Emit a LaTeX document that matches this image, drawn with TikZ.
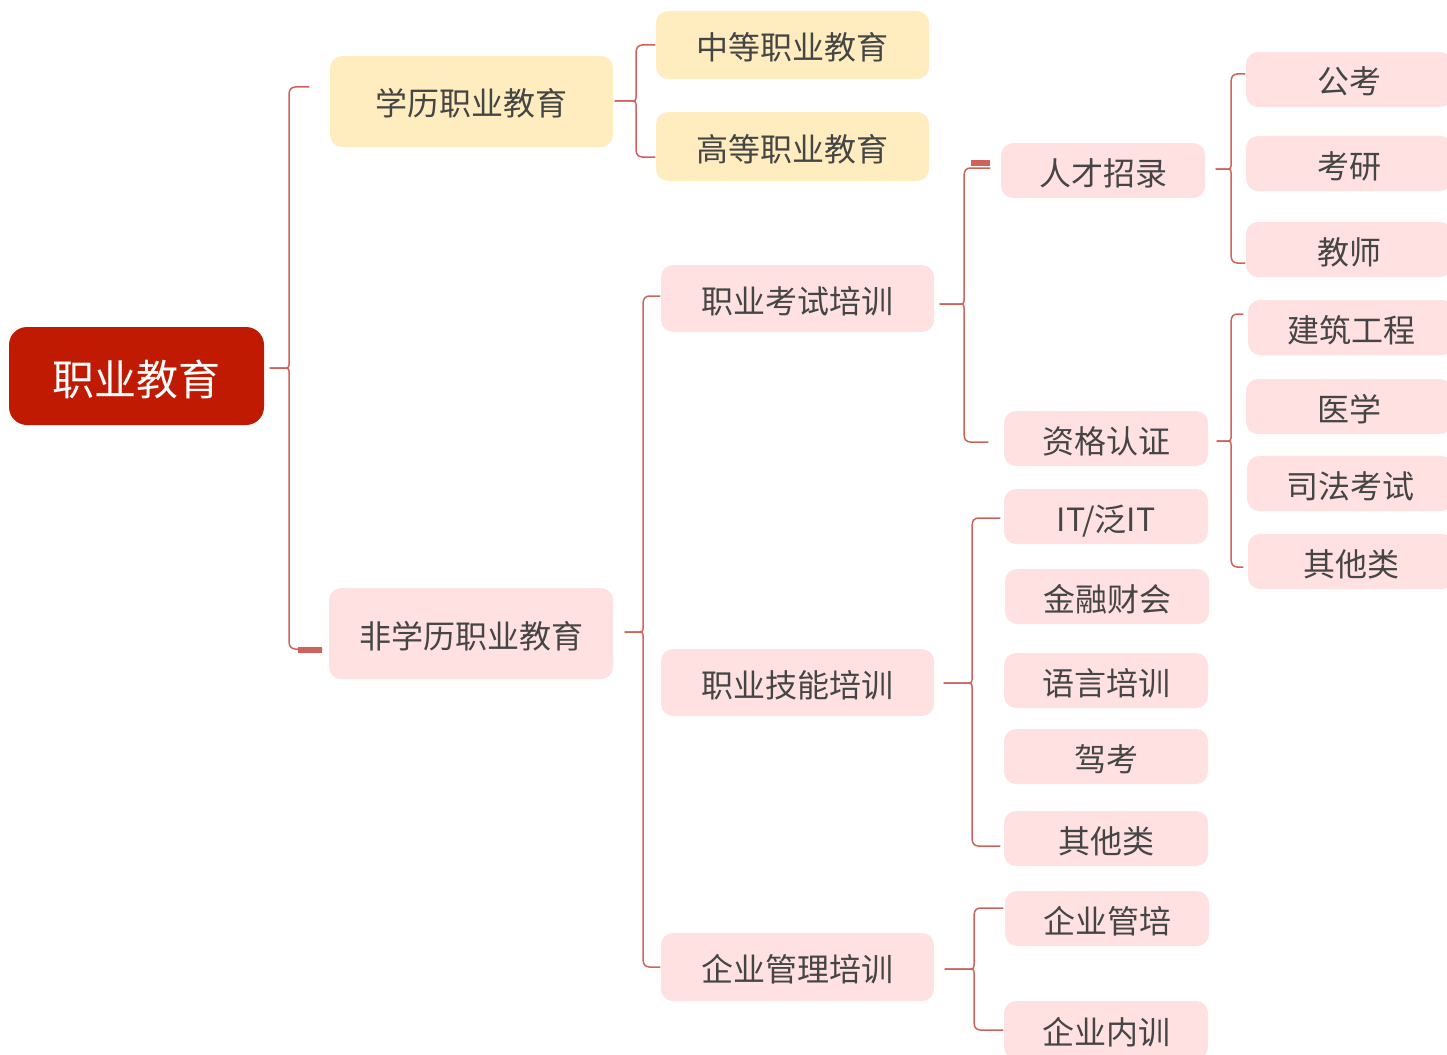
\documentclass[tikz,border=0pt]{standalone}
\usepackage{fontspec}
\setmainfont{Noto Sans CJK SC}
\usetikzlibrary{calc}
\definecolor{rootred}{HTML}{C01B02}
\definecolor{ylw}{HTML}{FFEDC0}
\definecolor{pnk}{HTML}{FFE1E1}
\definecolor{lnc}{HTML}{D0625C}
\definecolor{txt}{HTML}{454545}
\begin{document}
\begin{tikzpicture}[x=1pt,y=-1pt,
  base/.style={rounded corners=12pt, inner sep=0pt, text=txt, font=\fontsize{32}{32}\selectfont, text height=29pt, text depth=0pt},
  yb/.style={base, fill=ylw},
  pb/.style={base, fill=pnk},
  l2/.style={minimum width=273pt},
  l3/.style={pb, minimum width=204pt, minimum height=55pt},
  l4/.style={pb, minimum width=206pt, minimum height=55pt},
  conn/.style={draw=lnc, line width=1.5pt, line cap=round},
  mk/.style={fill=lnc}]
\useasboundingbox (0,0) rectangle (1447,1054);
\clip (0,0) rectangle (1447,1054);

% root
\node[fill=rootred, rounded corners=18pt, inner sep=0pt, text=white,
      font=\fontsize{42}{42}\selectfont, text height=38pt, text depth=0pt,
      minimum width=255pt, minimum height=98pt]
      (root) at (136.5,376) {职业教育};

% level 1
\node[yb, minimum width=283pt, minimum height=91pt] (xl) at (471.5,101.5) {学历职业教育};
\node[pb, minimum width=284pt, minimum height=91pt] (fxl) at (471,633.5) {非学历职业教育};

% level 2
\node[yb, l2, minimum height=68pt] (zd) at (792.5,45) {中等职业教育};
\node[yb, l2, minimum height=69pt] (gd) at (792.5,146.5) {高等职业教育};
\node[pb, l2, minimum height=67pt] (ks) at (797.5,298.5) {职业考试培训};
\node[pb, l2, minimum height=67pt] (jn) at (797.5,682.5) {职业技能培训};
\node[pb, l2, minimum height=68pt] (qy) at (797.5,967) {企业管理培训};

% level 3
\node[l3] (rc) at (1103,170.5) {人才招录};
\node[l3] (zg) at (1106,438.5) {资格认证};
\node[l3] (it) at (1106,516.5) {IT/泛IT};
\node[l3] (jr) at (1107,596.5) {金融财会};
\node[l3] (yy) at (1106,680.5) {语言培训};
\node[l3] (jk) at (1106,756.5) {驾考};
\node[l3] (qt1) at (1106,838.5) {其他类};
\node[l3] (qg) at (1107,918.5) {企业管培};
\node[l3, minimum height=58pt] (nx) at (1106,1030) {企业内训};

% level 4
\node[l4] (gk) at (1349,79.5) {公考};
\node[l4] (ky) at (1349,163.5) {考研};
\node[l4] (js) at (1349,249.5) {教师};
\node[l4] (jz) at (1351,327.5) {建筑工程};
\node[l4] (yx) at (1349,406.5) {医学};
\node[l4] (sf) at (1350,483.5) {司法考试};
\node[l4] (qt2) at (1351,561.5) {其他类};

% brackets
% root
\draw[conn] ($(root.east)+(6,-8)$) -- ++(16,0) .. controls +(3,0) and +(0,5) .. ++(3,-8) [rounded corners=6pt] |- ($(xl.west)+(-21,-14.5)$);
\draw[conn] ($(root.east)+(6,-8)$) -- ++(16,0) .. controls +(3,0) and +(0,-5) .. ++(3,8) [rounded corners=6pt] |- ($(fxl.west)+(-7,15.5)$);
% xl
\draw[conn] ($(xl.east)+(2,-0.5)$) -- ++(18,0) .. controls +(3,0) and +(0,5) .. ++(3,-8) [rounded corners=6pt] |- ($(zd.west)+(-1,0)$);
\draw[conn] ($(xl.east)+(2,-0.5)$) -- ++(18,0) .. controls +(3,0) and +(0,-5) .. ++(3,8) [rounded corners=6pt] |- ($(gd.west)+(-1,10.5)$);
% fxl
\draw[conn] ($(fxl.east)+(12,-1.5)$) -- ++(15,0) .. controls +(3,0) and +(0,5) .. ++(3,-8) [rounded corners=6pt] |- ($(ks.west)+(-1,-2.5)$);
\draw[conn] ($(fxl.east)+(12,-1.5)$) -- ++(15,0) .. controls +(3,0) and +(0,-5) .. ++(3,8) [rounded corners=6pt] |- ($(qy.west)+(-1,0)$);
% ks
\draw[conn] ($(ks.east)+(6,5.5)$) -- ++(21,0) .. controls +(3,0) and +(0,5) .. ++(3,-8) [rounded corners=6pt] |- ($(rc.west)+(-11,-2.5)$);
\draw[conn] ($(ks.east)+(6,5.5)$) -- ++(21,0) .. controls +(3,0) and +(0,-5) .. ++(3,8) [rounded corners=6pt] |- ($(zg.west)+(-16,3.5)$);
% jn
\draw[conn] ($(jn.east)+(10,0.5)$) -- ++(25,0) .. controls +(3,0) and +(0,5) .. ++(3,-8) [rounded corners=6pt] |- ($(it.west)+(-4,1.5)$);
\draw[conn] ($(jn.east)+(10,0.5)$) -- ++(25,0) .. controls +(3,0) and +(0,-5) .. ++(3,8) [rounded corners=6pt] |- ($(qt1.west)+(-4,7.5)$);
% qy
\draw[conn] ($(qy.east)+(11,2)$) -- ++(26,0) .. controls +(3,0) and +(0,5) .. ++(3,-8) [rounded corners=6pt] |- ($(qg.west)+(-2,-10.5)$);
\draw[conn] ($(qy.east)+(11,2)$) -- ++(26,0) .. controls +(3,0) and +(0,-5) .. ++(3,8) [rounded corners=6pt] |- ($(nx.west)+(-1,0)$);
% rc
\draw[conn] ($(rc.east)+(11,-1.5)$) -- ++(12,0) .. controls +(3,0) and +(0,5) .. ++(3,-8) [rounded corners=6pt] |- ($(gk.west)+(-1,-5.5)$);
\draw[conn] ($(rc.east)+(11,-1.5)$) -- ++(12,0) .. controls +(3,0) and +(0,-5) .. ++(3,8) [rounded corners=6pt] |- ($(js.west)+(-1,13.5)$);
% zg
\draw[conn] ($(zg.east)+(9,2.5)$) -- ++(11,0) .. controls +(3,0) and +(0,5) .. ++(3,-8) [rounded corners=6pt] |- ($(jz.west)+(-5,-13.5)$);
\draw[conn] ($(zg.east)+(9,2.5)$) -- ++(11,0) .. controls +(3,0) and +(0,-5) .. ++(3,8) [rounded corners=6pt] |- ($(qt2.west)+(-5,5.5)$);

% markers
\fill[mk] ($(fxl.west)+(-31,13)$) rectangle ++(24,6);
\fill[mk] ($(rc.west)+(-30,-10.5)$) rectangle ++(19,6);
\end{tikzpicture}
\end{document}
